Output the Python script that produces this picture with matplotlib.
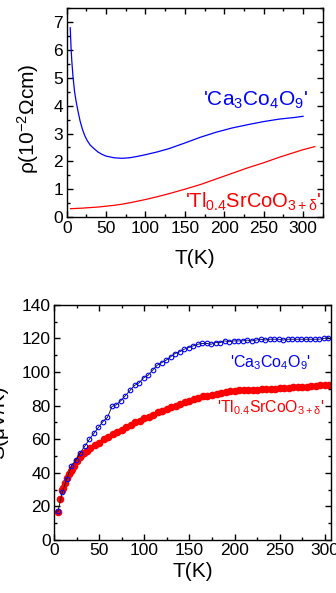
import matplotlib
matplotlib.use('Agg')
import matplotlib.pyplot as plt
from matplotlib.ticker import MultipleLocator

plt.rcParams['font.family'] = ['Liberation Sans', 'DejaVu Sans']
plt.rcParams['mathtext.fontset'] = 'custom'
plt.rcParams['mathtext.rm'] = 'Liberation Sans'
plt.rcParams['mathtext.it'] = 'Liberation Sans:italic'
plt.rcParams['mathtext.default'] = 'regular'

# resistividade (painel de cima)
T_rho_ca = [4.5, 5.5, 6.5, 8, 10, 12, 14, 17, 20, 23, 26, 30, 35, 40, 45, 50, 60, 70,
            80, 90, 100, 115, 130, 150, 170, 190, 210, 230, 250, 270, 290, 300]
rho_ca = [6.8, 6.1, 5.6, 5.05, 4.5, 4.15, 3.85, 3.45, 3.15, 2.92, 2.75, 2.58, 2.45, 2.33,
          2.25, 2.19, 2.13, 2.11, 2.13, 2.18, 2.24, 2.34, 2.46, 2.66, 2.87, 3.05, 3.2,
          3.32, 3.43, 3.52, 3.58, 3.62]
T_rho_tl = [5, 20, 40, 60, 70, 85, 100, 115, 130, 150, 170, 190, 210, 230, 250, 270, 290, 300, 315]
rho_tl = [0.30, 0.32, 0.36, 0.42, 0.46, 0.54, 0.63, 0.73, 0.84, 1.0, 1.17, 1.37, 1.57,
          1.77, 1.95, 2.15, 2.33, 2.42, 2.53]

# termopotencia (painel de baixo)
T_s_ca = [4, 9, 14, 19, 24, 29, 34, 39, 44, 49, 54, 59, 64, 69, 74, 79, 84, 89, 94, 99,
          104, 109, 114, 119, 124, 129, 134, 139, 144, 149, 154, 159, 164, 169, 174, 179,
          184, 189, 194, 199, 204, 209, 214, 219, 224, 229, 234, 239, 244, 249, 254, 259,
          264, 269, 274, 279, 284, 289, 294, 299, 304]
s_ca = [17, 28.5, 36.5, 44, 47.5, 52, 56, 60, 63.5, 67, 70.5, 73, 79.5, 80.5, 83, 86, 89,
        92, 93.5, 96.5, 98, 101, 104, 105.5, 107, 109, 111, 112, 113.5, 114.5, 115.5,
        116.5, 117, 117, 116.5, 117.5, 117.5, 118.5, 118, 118.5, 118.5, 118.5, 119, 118.5,
        119, 119.5, 119, 119.5, 119.5, 119.5, 119, 119.5, 119.5, 119.5, 119.5, 119.5,
        119.5, 119.5, 119.5, 120, 120.5]
T_s_tl = [4, 6, 8, 10, 12, 14, 16, 18, 20, 22, 25, 28, 30, 33, 36, 40, 45, 50, 55, 60, 65,
          70, 75, 80, 85, 90, 95, 100, 105, 110, 115, 120, 125, 130, 135, 140, 145, 150,
          155, 160, 165, 170, 175, 180, 185, 190, 195, 200, 205, 210, 215, 220, 225, 230,
          235, 240, 245, 250, 255, 260, 265, 270, 275, 280, 285, 290, 295, 300, 305]
s_tl = [16.5, 24.5, 30, 31, 34, 37, 39.5, 41, 42.5, 44, 47, 49.5, 50.5, 51.5, 53, 55, 56.5,
        58, 60, 61.5, 63, 64.5, 65.5, 67, 68.5, 70, 71, 72.5, 73.5, 74.5, 76, 77, 78, 79,
        80, 81, 82, 83, 84, 84.5, 85.5, 86, 86.5, 87, 87.5, 88, 88.5, 88.5, 89, 89, 89.5,
        89.5, 89.5, 90, 90, 90, 90, 90.5, 90.5, 90.5, 91, 91, 91, 91, 91.5, 91.5, 92, 92, 92]

lbl_ca = "'Ca$_3$Co$_4$O$_9$'"
lbl_tl = "'Tl$_{0.4}$SrCoO$_{3+\\delta}$'"


def estilo(ax):
    ax.tick_params(which='both', direction='in', top=True, right=True,
                   labelsize=12.5, width=1, pad=2.5)
    ax.tick_params(which='major', length=4)
    ax.tick_params(which='minor', length=2.5)
    for s in ax.spines.values():
        s.set_linewidth(1)


fig = plt.figure(figsize=(3.36, 5.93), dpi=100)

ax1 = fig.add_axes([0.1985, 0.634, 0.762, 0.352])
ax1.plot(T_rho_ca, rho_ca, color='#0000ff', lw=0.9)
ax1.plot(T_rho_tl, rho_tl, color='#ff0000', lw=0.9)
ax1.set_xlim(0, 325)
ax1.set_ylim(0, 7.5)
ax1.xaxis.set_major_locator(MultipleLocator(50))
ax1.xaxis.set_minor_locator(MultipleLocator(25))
ax1.yaxis.set_major_locator(MultipleLocator(1))
ax1.yaxis.set_minor_locator(MultipleLocator(0.5))
estilo(ax1)
ax1.text(173, 4.0, lbl_ca, color='#0000ff', fontsize=15)
ax1.text(150, 0.32, lbl_tl, color='#ff0000', fontsize=14.5)
ax1.set_xlabel('T(K)', fontsize=15)
ax1.set_ylabel('ρ(10$^{-2}$Ωcm)', fontsize=15)
ax1.xaxis.set_label_coords(0.5, -0.155)
ax1.yaxis.set_label_coords(-0.1, 0.47)

ax2 = fig.add_axes([0.1616, 0.0894, 0.8234, 0.3966])
ax2.plot(T_s_tl, s_tl, 'o', color='#ff0000', ms=5.5, mec='none')
ax2.plot(T_s_ca, s_ca, '-', color='black', lw=0.6)
ax2.plot(T_s_ca, s_ca, 'o', ls='none', mfc='none', mec='#0000ff', ms=3.3, mew=0.8)
ax2.set_xlim(0, 307)
ax2.set_ylim(0, 140)
ax2.xaxis.set_major_locator(MultipleLocator(50))
ax2.xaxis.set_minor_locator(MultipleLocator(25))
ax2.yaxis.set_major_locator(MultipleLocator(20))
ax2.yaxis.set_minor_locator(MultipleLocator(10))
estilo(ax2)
ax2.text(195, 103, lbl_ca, color='#0000ff', fontsize=11.5)
ax2.text(181, 75.8, lbl_tl, color='#ff0000', fontsize=11.3)
ax2.set_xlabel('T(K)', fontsize=15)
ax2.set_ylabel('S(μV/K)', fontsize=15)
ax2.xaxis.set_label_coords(0.5, -0.095)
ax2.yaxis.set_label_coords(-0.167, 0.5)

fig.savefig('out.png', dpi=100)
